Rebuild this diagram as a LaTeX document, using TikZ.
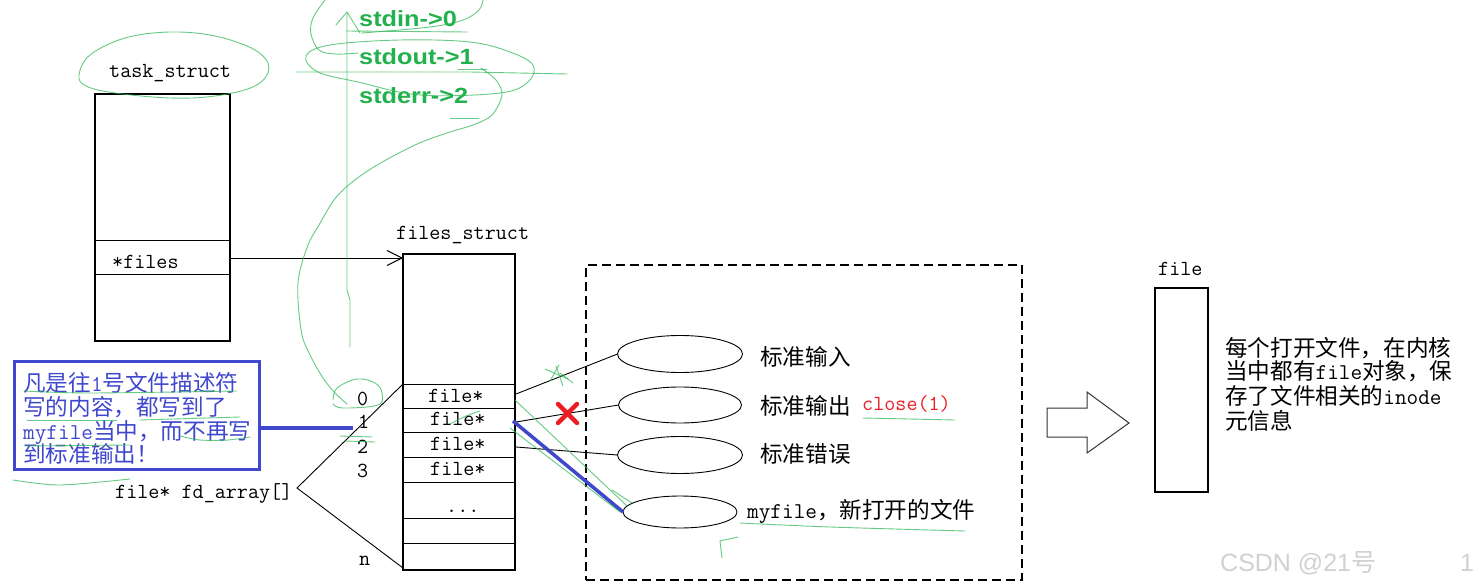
\documentclass[tikz,border=0pt]{standalone}
\usepackage{fontspec}
\setmainfont{Liberation Sans}
\newfontfamily\cjk{Noto Sans CJK SC}
\newfontfamily\grn{Liberation Sans}[FakeStretch=1.15]
\usetikzlibrary{shapes.geometric,arrows.meta}
\definecolor{bluepen}{RGB}{63,72,204}
\definecolor{greentext}{RGB}{34,177,76}
\definecolor{greenpen}{RGB}{50,185,90}
\definecolor{redpen}{RGB}{237,28,36}
\tikzset{
  mono/.style={font=\fontsize{21.5}{24}\selectfont\ttfamily, inner sep=0pt, anchor=base west},
  zhtext/.style={font=\fontsize{22.6}{24}\selectfont\cjk, inner sep=0pt, anchor=base west},
  box/.style={draw, line width=1.1pt, outer sep=0pt, inner sep=0pt},
  rowline/.style={line width=0.9pt},
  oval/.style={draw, ellipse, line width=0.9pt, inner sep=0pt, outer sep=0pt},
  link/.style={line width=0.9pt},
  bluelink/.style={draw=bluepen, line width=3.5pt},
  pen/.style={draw=greenpen, line width=0.9pt, opacity=0.75, line cap=round, line join=round},
  gtext/.style={font=\fontsize{22}{24}\selectfont\grn\bfseries, text=greentext, inner sep=0pt, anchor=base west},
}
\begin{document}
\begin{tikzpicture}[x=1pt,y=-1pt]
\fill[white] (0,0) rectangle (1480,588);
\useasboundingbox (0,0) rectangle (1480,588);

% ---------- task_struct ----------
\node[box, minimum width=135, minimum height=247, anchor=north west] (ts) at (95,94) {};
\draw[rowline] (95,240) -- (230,240);
\draw[rowline] (95,274) -- (230,274);
\node[mono] (tslabel) at (109,78) {task\_struct};
\node[mono] (tsfiles) at (112,268) {*files};

% ---------- files_struct ----------
\node[box, minimum width=112, minimum height=316, anchor=north west] (fs) at (403,254) {};
\foreach \yy in {384,408,432,457,482,518,543} \draw[rowline] (403,\yy) -- (515,\yy);
\node[mono] (fslabel) at (396,240) {files\_struct};
\node[mono] (row0) at (428,402) {file*};
\node[mono] (row1) at (430,425) {file*};
\node[mono] (row2) at (430,450) {file*};
\node[mono] (row3) at (430,475) {file*};
\node[mono] (rowdots) at (446,512) {...};
\node[mono] (idx0) at (357,405) {0};
\node[mono] (idx1) at (358,428) {1};
\node[mono] (idx2) at (357,453) {2};
\node[mono] (idx3) at (357,477) {3};
\node[mono] (idxn) at (359,565) {n};

% pointer *files -> files_struct
\coordinate (fp) at (230,258);
\draw[link, -{Straight Barb[length=15pt,width=15pt]}] (fp) -- (fp -| fs.west);

% fd_array bracket
\node[mono] (fdarr) at (115,498) {file* fd\_array[]};
\coordinate (fdtip) at (297,488);
\coordinate (fstop0) at (403,384);
\coordinate (fsbot) at (403,568);
\draw[link] (fstop0) -- (fdtip) -- (fsbot);

% ---------- blue note ----------
\node[draw=bluepen, line width=3pt, minimum width=245, minimum height=108, anchor=north west, inner sep=0pt, outer sep=0pt] (note) at (14,361) {};
\node[zhtext, text=bluepen] (note1) at (23,391) {凡是往{\ttfamily 1}号文件描述符};
\node[zhtext, text=bluepen] (note2) at (23,415) {写的内容，都写到了};
\node[zhtext, text=bluepen] (note3) at (23,439) {{\ttfamily myfile}当中，而不再写};
\node[zhtext, text=bluepen] (note4) at (23,462) {到标准输出！};
\coordinate (n1) at (353,428);
\draw[bluelink] (note.east |- n1) -- (n1);

% ---------- dashed group ----------
\node[draw, dash pattern=on 9pt off 5pt, line width=1.1pt, minimum width=436, minimum height=315, anchor=north west, inner sep=0pt, outer sep=0pt] (grp) at (586,265) {};
\node[oval, minimum width=125, minimum height=37] (e1) at (680,354) {};
\node[oval, minimum width=123, minimum height=36] (e2) at (680,405) {};
\node[oval, minimum width=125, minimum height=37] (e3) at (680,455) {};
\node[oval, minimum width=114, minimum height=32] (e4) at (680,512) {};
\node[zhtext] (l1) at (760,365) {标准输入};
\node[zhtext] (l2) at (760,414) {标准输出};
\node[mono, text=redpen] (l2b) at (862,410) {close(1)};
\node[zhtext] (l3) at (760,462) {标准错误};
\node[zhtext] (l4) at (747,518) {{\ttfamily myfile}，新打开的文件};

\coordinate (p0) at (516,394);
\coordinate (p1) at (516,422);
\coordinate (p2) at (516,447);
\coordinate (p1b) at (513,421);
\draw[link] (p0) -- (e1.west);
\draw[link] (p1) -- (e2.west);
\draw[link] (p2) -- (e3.west);
\draw[bluelink] (p1b) -- (e4.west);

% red cross
\draw[redpen, line width=4.5pt, line cap=round] (558,404) -- (577,423) (577,404) -- (558,423);

% ---------- block arrow and file ----------
\draw[line width=1pt, black!80] (1047,408) -- (1087,408) -- (1087,392) -- (1129,423) -- (1087,453) -- (1087,437) -- (1047,437) -- cycle;
\node[box, minimum width=53, minimum height=204, anchor=north west] (fobj) at (1155,288) {};
\node[mono] (flabel) at (1158,275) {file};
\node[zhtext] (info1) at (1225,356) {每个打开文件，在内核};
\node[zhtext] (info2) at (1225,379) {当中都有{\ttfamily file}对象，保};
\node[zhtext] (info3) at (1225,404) {存了文件相关的{\ttfamily inode}};
\node[zhtext] (info4) at (1225,429) {元信息};

% ---------- green annotations ----------
\node[gtext] (g0) at (359,27) {stdin->0};
\node[gtext] (g1) at (359,65) {stdout->1};
\node[gtext] (g2) at (359,104) {stderr->2};

% ellipse round task_struct
\draw[pen] plot[smooth cycle, tension=0.6] coordinates {(79,75) (90,55) (125,38) (170,32) (215,36) (255,50) (269,68) (255,86) (215,96) (170,98) (115,93) (86,86)};
% upward arrow
\draw[pen] (350,347) -- (350,300) -- (347,290) -- (347,12);
\draw[pen] (336,25) -- (347,12) -- (360,33);
% loop round stdin
\draw[pen] plot[smooth, tension=0.6] coordinates {(325,0) (313,18) (311,34) (319,50) (335,54) (358,53)};
\draw[pen] plot[smooth, tension=0.6] coordinates {(483,0) (479,10) (463,20) (430,27) (362,33)};
\draw[pen] (346,31) -- (467,32);
% loop round stdout
\draw[pen] plot[smooth cycle, tension=0.6] coordinates {(306,56) (330,45) (400,40) (470,42) (510,52) (533,65) (528,82) (500,93) (420,95) (358,82) (318,72)};
\draw[pen] (296,72) -- (470,72) -- (567,74);
\draw[pen] (458,69) -- (487,69);
\draw[pen] (450,118) -- (479,118);
% long S curve down to index 0
\draw[pen] plot[smooth, tension=0.55] coordinates {(481,68) (496,80) (502,95) (492,115) (473,125) (450,132) (415,145) (369,170) (338,195) (319,225) (308,245) (299,275) (298,300) (302,335) (310,355) (323,378) (335,393) (347,404)};
\draw[pen] plot[smooth, tension=0.6] coordinates {(333,400) (337,388) (357,379) (375,383) (382,393) (378,405) (343,408) (333,404)};
% marks near index 2
\draw[pen] (340,436) -- (372,437);
\draw[pen] (345,441) -- (375,442);
% over file* row 1
\draw[pen] plot[smooth] coordinates {(450,424) (466,416) (480,411)};
% scribble near first link
\draw[pen] (545,369) -- (568,379);
\draw[pen] (550,381) -- (559,365);
\draw[pen] (556,366) -- (563,386);
\draw[pen] (560,373) -- (573,383);
% double line along the blue link
\draw[pen] (515,400) -- (627,506);
\draw[pen] (510,428) -- (620,512);
\draw[pen] (612,490) -- (632,503);
% underlines
\draw[pen] (863,418) -- (955,420);
\draw[pen] plot[smooth] coordinates {(740,523) (830,527) (965,531)};
\draw[pen] (722,558) -- (720,541) -- (738,537);
% blue note underlines
\draw[pen] plot[smooth] coordinates {(24,391) (90,393) (237,391)};
\draw[pen] (27,420) -- (117,420);
\draw[pen] (140,420) -- (240,417);
\draw[pen] plot[smooth] coordinates {(180,436) (200,440) (228,440) (250,437)};
\draw[pen] (25,446) -- (130,445);
\draw[pen] plot[smooth] coordinates {(13,480) (60,485) (130,479)};

% watermark
\node[font=\fontsize{25}{26}\selectfont, text=black!18, inner sep=0pt, anchor=base west] (wm) at (1220,571) {CSDN @21{\cjk 号}};
\node[font=\fontsize{25}{26}\selectfont, text=black!18, inner sep=0pt, anchor=base west] (wm2) at (1460,571) {1};
\end{tikzpicture}
\end{document}
